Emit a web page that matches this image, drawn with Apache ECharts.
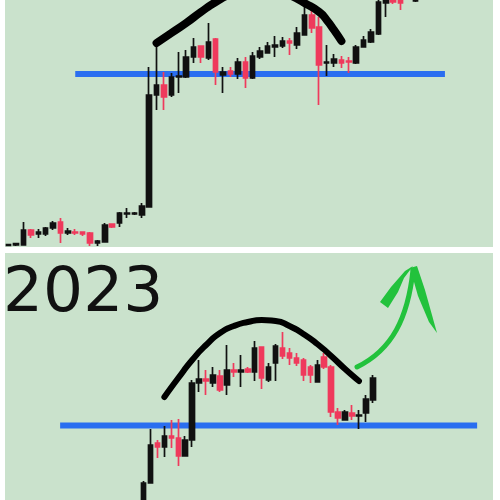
<!DOCTYPE html>
<html>
<head>
<meta charset="utf-8">
<script src="https://cdn.jsdelivr.net/npm/echarts@6/dist/echarts.min.js"></script>
<style>html,body{margin:0;padding:0;background:#fff}#c{width:500px;height:500px}</style>
</head>
<body>
<div id="c"></div>
<script>
// ---------- top panel (older move) ----------
const topCount = 66;
const topOpen  = [1.5,2,2,17,13,13,19,25,14,15,15,14,4,5,23,24,33,33,32,40,
                  152,162,152,170,170,190,201,189,208,172,176,173,185,169,190,194,200,201,206,202,
                  212,232,220,184,184,187,186,184,200,205,
                  213,244,252,250,262,246];
const topClose = [2.5,3.5,17,12,15,19,24,14,16,14,13,4,6,22,20,34,34,34,41,152,
                  162,150,170,171,190,200,190,205,175,175,173,185,169,191,196,201,202,206,204,214,
                  232,219,182,185,188,184,185,200,207,215,
                  245,252,245,244,255,252];
const topLow   = [1,1,2,9,9,11,17,4,12,12,11,1,1,5,19,20,29,32,29,40,
                  137,137,150,154,169,184,184,187,162,154,170,168,159,168,188,194,190,199,192,198,
                  212,214,142,171,180,179,174,183,200,204,
                  212,230,243,237,250,245];
const topHigh  = [3,4,25,18,18,20,26,29,19,18,15.5,15,7,24,23,35,39,35,44,180,
                  205,175,174,195,197,209,201,224,209,180,180,189,190,195,200,205,211,210,209,220,
                  242,242,230,202,193,191,190,202,211,218,
                  252,257,255,253,265,255];
const topSupport = 173;
const topSupportSpan = [9, 59];
const topArcX = [20,22,24,26,28,30,32,34,36,38,40,42,43,44,45];
const topArcY = [204,214,224,235,245,253,258,260,258,252,244,235,227,217,206];

// ---------- bottom panel (2023) ----------
const bottomCount = 70;
const bottomFirst = 19;
const botOpen  = [-20,17,57,53,64,62,44,60,117,121,117,124,115,130,128,131,128,153,120,137,
                  152,147,142,140,133,118,143,133,88,80,87,84,87,100];
const botClose = [17,55,53,64,62,44,60,117,121,119,125,110,130,128,130,128,152,122,133,154,
                  144,142,137,125,125,135,133,88,82,88,84,85,101,122];
const botLow   = [-25,17,42,43,52,34,44,53,108,105,113,108,105,123,113,127,119,111,118,119,
                  141,135,134,119,117,118,131,83,75,80,80,71,78,97];
const botHigh  = [19,71,60,74,80,81,64,120,140,130,133,130,155,137,145,133,159,153,137,156,
                  168,152,147,142,135,140,147,135,92,90,95,90,105,125];
const botSupport = 74.5;
const botSupportSpan = [7, 67];
const botArcX = [22,24,26,28,30,32,34,36,38,40,42,44,46,48,50];
const botArcY = [103,122,140,155,167,174,178,180,179,174,166,156,144,131,119];
const yearLabel = '2023';

// ---------- build ----------
const BG = '#cae2cc', UP = '#111111', DOWN = '#ef3a5c', BLUE = '#2a6ef0', GREEN = '#22c23c';
const topCats = Array.from({length: topCount}, (_, i) => 'a' + i);
const botCats = Array.from({length: bottomCount}, (_, i) => 'b' + i);
const topData = topCats.map((_, i) => i < topOpen.length ? [topOpen[i], topClose[i], topLow[i], topHigh[i]] : '-');
const botData = botCats.map((_, i) => {
  const k = i - bottomFirst;
  return (k >= 0 && k < botOpen.length) ? [botOpen[k], botClose[k], botLow[k], botHigh[k]] : '-';
});
const candleStyle = {color: UP, color0: DOWN, borderColor: UP, borderColor0: DOWN, borderWidth: 1.7};

const chart = echarts.init(document.getElementById('c'), null, {renderer: 'canvas'});
chart.setOption({
  animation: false,
  backgroundColor: '#ffffff',
  grid: [
    {left: 5, top: 0, width: 488, height: 247, show: false},
    {left: 8, top: 253, width: 486.5, height: 247, show: false}
  ],
  xAxis: [
    {type: 'category', gridIndex: 0, data: topCats, show: false, boundaryGap: true},
    {type: 'category', gridIndex: 1, data: botCats, show: false, boundaryGap: true}
  ],
  yAxis: [
    {type: 'value', gridIndex: 0, min: 0, max: 247, show: false, splitLine: {show: false}},
    {type: 'value', gridIndex: 1, min: 0, max: 247, show: false, splitLine: {show: false}}
  ],
  graphic: [
    {type: 'rect', shape: {x: 5, y: 0, width: 488, height: 247}, style: {fill: BG}, z: -10, silent: true},
    {type: 'rect', shape: {x: 5, y: 253, width: 488, height: 247}, style: {fill: BG}, z: -10, silent: true},
    {type: 'text', x: 3, y: 295, z: 50, silent: true,
      style: {text: yearLabel, font: 'normal 63px "DejaVu Sans"', fill: '#111', verticalAlign: 'middle', textAlign: 'left'}},
    {type: 'bezierCurve', z: 50, silent: true,
      shape: {x1: 357, y1: 367, cpx1: 392, cpy1: 350, cpx2: 408, cpy2: 318, x2: 413, y2: 270},
      style: {stroke: GREEN, lineWidth: 5, fill: null, lineCap: 'round'}},
    {type: 'polygon', z: 50, silent: true,
      shape: {points: [[413,266],[404,278],[398,292],[388,308],[380,302],[391,287],[405,271]]},
      style: {fill: GREEN}},
    {type: 'polygon', z: 50, silent: true,
      shape: {points: [[410,268],[417,266],[425,290],[437,333],[429,322],[418,296]]},
      style: {fill: GREEN}}
  ],
  series: [
    {type: 'line', xAxisIndex: 0, yAxisIndex: 0, z: 1, symbol: 'none', silent: true,
      data: topSupportSpan.map(x => [x, topSupport]), lineStyle: {color: BLUE, width: 6}},
    {type: 'line', xAxisIndex: 1, yAxisIndex: 1, z: 1, symbol: 'none', silent: true,
      data: botSupportSpan.map(x => [x, botSupport]), lineStyle: {color: BLUE, width: 6}},
    {type: 'candlestick', xAxisIndex: 0, yAxisIndex: 0, z: 3, barWidth: 5, data: topData, itemStyle: candleStyle, silent: true},
    {type: 'candlestick', xAxisIndex: 1, yAxisIndex: 1, z: 3, barWidth: 5, data: botData, itemStyle: candleStyle, silent: true},
    {type: 'line', xAxisIndex: 0, yAxisIndex: 0, z: 5, symbol: 'none', smooth: 0.6, silent: true,
      data: topArcX.map((x, i) => [x, topArcY[i]]), lineStyle: {color: '#000', width: 8, cap: 'round'}},
    {type: 'line', xAxisIndex: 1, yAxisIndex: 1, z: 5, symbol: 'none', smooth: 0.6, silent: true,
      data: botArcX.map((x, i) => [x, botArcY[i]]), lineStyle: {color: '#000', width: 6, cap: 'round'}}
  ]
});
</script>
</body>
</html>
